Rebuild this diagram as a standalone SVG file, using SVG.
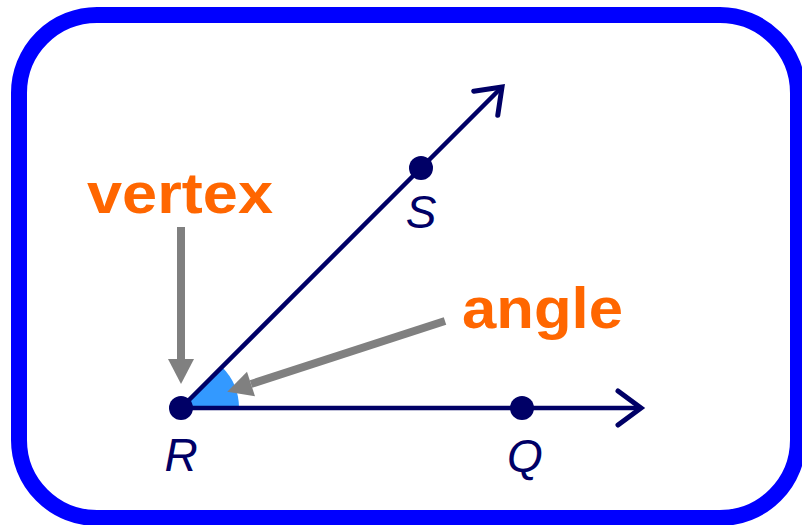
<svg xmlns="http://www.w3.org/2000/svg" width="802" height="525" viewBox="0 0 802 525">
<style>
.ray{stroke:#000066;stroke-width:4.5;fill:none}
.chev{stroke:#000066;stroke-width:5;fill:none;stroke-linejoin:miter;stroke-linecap:round}
.dot{fill:#000066}
.pt{font-family:"Liberation Sans",Arial,sans-serif;font-style:italic;font-size:46px;fill:#000066;text-anchor:middle}
.lbl{font-family:"Liberation Sans",Arial,sans-serif;font-weight:bold;font-size:58px;fill:#ff6600}
.ptr{stroke:#808080;stroke-width:8;fill:none}
</style>
<defs>
<marker id="chev" markerUnits="userSpaceOnUse" orient="auto" refX="0" refY="0" markerWidth="60" markerHeight="60" viewBox="-30 -30 60 60" overflow="visible">
<path class="chev" d="M-23,-17 L0,0 L-23,17"/>
</marker>
<marker id="gh" markerUnits="userSpaceOnUse" orient="auto" refX="0" refY="13" markerWidth="26" markerHeight="26" viewBox="0 0 26 26" overflow="visible">
<path d="M0,0 L25,13 L0,26 z" fill="#808080"/>
</marker>
</defs>
<rect x="19" y="15" width="779" height="503" rx="78" ry="78" fill="#ffffff" stroke="#0000ff" stroke-width="16"/>
<g id="angle-wedge"><path d="M181,408 L239,408 A58,58 0 0,0 222,367 Z" fill="#3399ff"/></g>
<g id="connectors">
<line class="ray" x1="181" y1="408" x2="641" y2="408" marker-end="url(#chev)"/>
<line class="ray" x1="181" y1="408" x2="502" y2="87" marker-end="url(#chev)"/>
<line class="ptr" x1="181" y1="227" x2="181" y2="359" marker-end="url(#gh)"/>
<line class="ptr" x1="445" y1="321" x2="251" y2="384" marker-end="url(#gh)"/>
</g>
<g id="R"><circle class="dot" cx="181" cy="408" r="12"/><text class="pt" x="181" y="471">R</text></g>
<g id="S"><circle class="dot" cx="421" cy="168" r="12"/><text class="pt" x="421" y="228">S</text></g>
<g id="Q"><circle class="dot" cx="522" cy="408" r="12"/><text class="pt" x="525" y="472">Q</text></g>
<g id="vertex"><text class="lbl" x="87" y="213" textLength="186" lengthAdjust="spacingAndGlyphs">vertex</text></g>
<g id="angle"><text class="lbl" x="462" y="328" textLength="161" lengthAdjust="spacingAndGlyphs">angle</text></g>
</svg>
